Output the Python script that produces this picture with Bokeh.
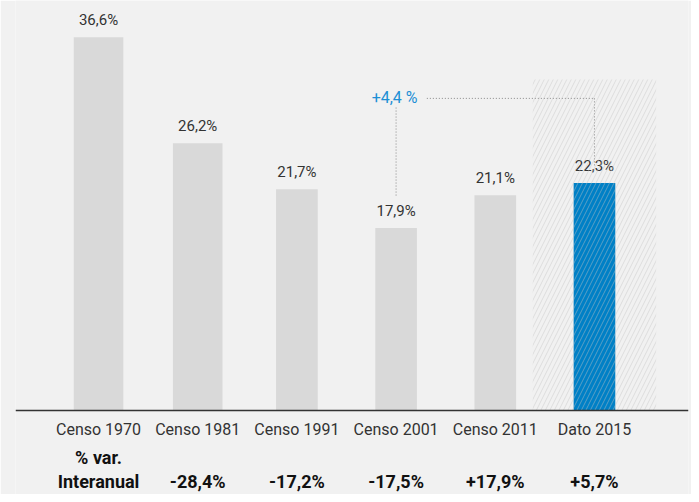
from bokeh.plotting import figure
from bokeh.models import Range1d, Span
from bokeh.core.properties import value
from bokeh.embed import file_html
from bokeh.resources import INLINE

# ---- data ----
categories = ["Censo 1970", "Censo 1981", "Censo 1991", "Censo 2001", "Censo 2011", "Dato 2015"]
shares = [36.6, 26.2, 21.7, 17.9, 21.1, 22.3]
share_labels = ["36,6%", "26,2%", "21,7%", "17,9%", "21,1%", "22,3%"]
yoy_labels = ["", "-28,4%", "-17,2%", "-17,5%", "+17,9%", "+5,7%"]
row_title = ["% var.", "Interanual"]
delta_label = "+4,4 %"

# ---- style ----
BG = "#f1f1f1"
GREY = "#d9d9d9"
BLUE = "#0080c6"
ANN_BLUE = "#1e8fd5"
TXT = "#333333"
FONT = value("Roboto")
bar_colors = [GREY] * 5 + [BLUE]
bar_widths = [0.5, 0.5, 0.42, 0.42, 0.42, 0.42]
ann_level = 30.6
hatch_top = 32.45
hatch_width = 1.244

xs = list(range(len(categories)))

p = figure(width=691, height=494,
           x_range=Range1d(-0.837, 5.948), y_range=Range1d(-8.235, 40.196),
           x_axis_location=None, y_axis_location=None,
           output_backend="svg", toolbar_location=None,
           min_border_left=15, min_border_right=3, min_border_top=0, min_border_bottom=0)
p.background_fill_color = BG
p.border_fill_color = BG
p.outline_line_color = None
p.grid.visible = False

# bars
p.vbar(x=xs, top=shares, width=bar_widths, bottom=0, fill_color=bar_colors, line_color=None)

# value labels
p.text(x=xs, y=shares, text=share_labels, text_align="center", text_baseline="bottom",
       y_offset=-8, text_font=FONT, text_font_size="15px", text_color=TXT)

# category labels
p.text(x=xs, y=[0] * len(xs), text=categories, text_align="center", text_baseline="middle",
       y_offset=19, text_font=FONT, text_font_size="16px", text_color=TXT)

# bottom row
p.text(x=[0, 0], y=[0, 0], text=row_title, text_align="center", text_baseline="middle",
       y_offset=[47, 71], text_font=FONT, text_font_size="18px", text_font_style="bold",
       text_color="#111111")
p.text(x=xs[1:], y=[0] * (len(xs) - 1), text=yoy_labels[1:], text_align="center",
       text_baseline="middle", y_offset=71, text_font=FONT, text_font_size="18px",
       text_font_style="bold", text_color="#111111")

# annotation
p.text(x=[xs[3]], y=[ann_level], text=[delta_label], text_align="center", text_baseline="middle",
       x_offset=-1.5, y_offset=-1, text_font=FONT, text_font_size="16px", text_color=ANN_BLUE)
p.segment(x0=[xs[3] + 0.31, xs[5], xs[3]],
          y0=[ann_level, ann_level, ann_level - 0.9],
          x1=[xs[5], xs[5], xs[3]],
          y1=[ann_level, shares[5] + 1.7, shares[3] + 3.05],
          line_color="#888888", line_width=1, line_dash="1 2")

# baseline
p.add_layout(Span(location=0, dimension="width", line_color="#333333", line_width=1.5))

# hatched "estimate" zone
p.vbar(x=[xs[5]], top=[hatch_top], bottom=0, width=hatch_width, fill_alpha=0, line_color=None,
       hatch_pattern="/", hatch_color="#c4c4c4", hatch_alpha=0.45, hatch_scale=9, hatch_weight=1)

html = file_html(p, INLINE)
html = html.replace("<body>", '<body style="background:%s">' % BG, 1)
open("out.html", "w").write(html)
